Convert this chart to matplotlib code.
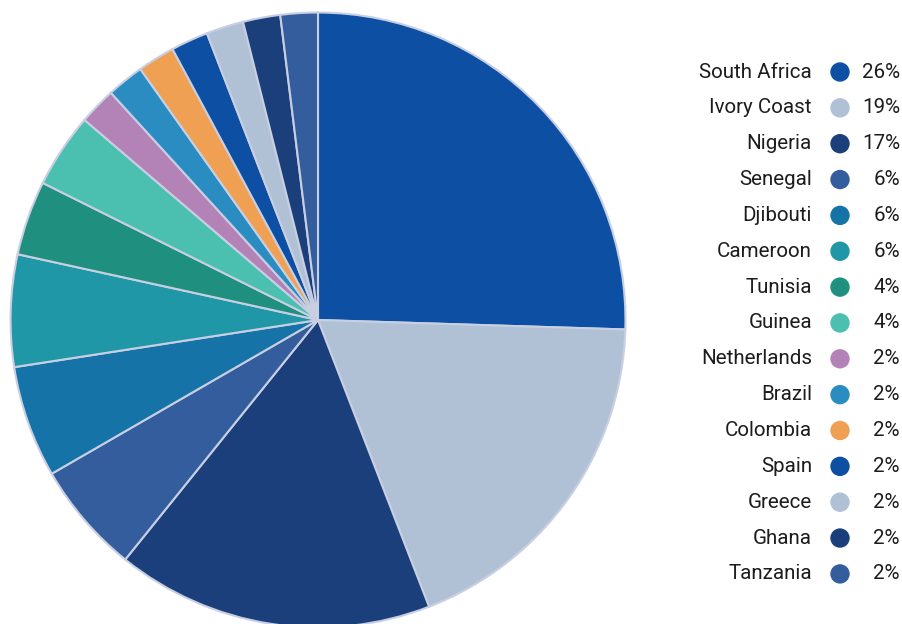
import matplotlib
matplotlib.use("Agg")
import matplotlib.pyplot as plt
from matplotlib.patches import Ellipse

#data
countries = ["South Africa", "Ivory Coast", "Nigeria", "Senegal", "Djibouti",
             "Cameroon", "Tunisia", "Guinea", "Netherlands", "Brazil",
             "Colombia", "Spain", "Greece", "Ghana", "Tanzania"]
shares = [26, 19, 17, 6, 6, 6, 4, 4, 2, 2, 2, 2, 2, 2, 2]
colors = ["#0d4fa2", "#b0c1d6", "#1a3f7a", "#345d9e", "#1573a8",
          "#1f97a6", "#1f907f", "#4bbfb0", "#b383b8", "#2b8cc1",
          "#f0a053", "#0d4fa2", "#b0c1d6", "#1a3f7a", "#345d9e"]

plt.rcParams['font.family'] = ['Roboto', 'DejaVu Sans']

W, H = 903, 624
fig = plt.figure(figsize=(W / 100, H / 100), dpi=100)

#pie
cx, cy, r = 318, 320, 309
ax = fig.add_axes([(cx - r) / W, (H - cy - r) / H, 2 * r / W, 2 * r / H])
ax.pie(shares, colors=colors, startangle=90, counterclock=False, radius=1,
       wedgeprops=dict(edgecolor="#c9cfe2", linewidth=1.5))
ax.set_xlim(-1.005, 1.005)
ax.set_ylim(-1.005, 1.005)
ax.axis("off")

#legend
y0, step = 72, 35.85
for i, (name, val, col) in enumerate(zip(countries, shares, colors)):
    y = 1 - (y0 + i * step) / H
    fig.text(812 / W, y, name, ha="right", va="center", fontsize=14.8, color="#1c1c1c")
    fig.text(900 / W, y, f"{val}%", ha="right", va="center", fontsize=14.8, color="#1c1c1c")
    fig.add_artist(Ellipse((840 / W, y), 18 / W, 18 / H, color=col,
                           transform=fig.transFigure))

fig.savefig("out.png", dpi=100)
